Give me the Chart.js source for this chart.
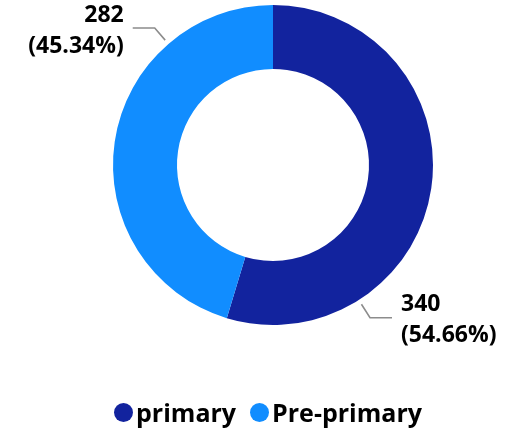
<!DOCTYPE html>
<html>
<head>
<meta charset="utf-8">
<script src="https://cdn.jsdelivr.net/npm/chart.js@4.4.0/dist/chart.umd.min.js"></script>
<style>
  body { margin: 0; background: #fff; font-family: "Open Sans", sans-serif; }
  #wrap { position: relative; width: 506px; height: 432px; }
  #legend {
    position: absolute; left: 30px; right: 0; top: 398px;
    display: flex; justify-content: center; gap: 14px;
    font-weight: 700; font-size: 25px; line-height: 29px; color: #000;
  }
  .item { display: flex; align-items: center; }
  .dot { width: 19px; height: 19px; border-radius: 50%; margin-right: 3px; }
</style>
</head>
<body>
<div id="wrap">
  <canvas id="donut"></canvas>
  <div id="legend"></div>
</div>
<script>
const categories = ['primary', 'Pre-primary'];
const counts = [340, 282];
const sliceColors = ['#12239E', '#118DFF'];

// ----- OUTSIDE LABELS WITH LEADER LINES -----
const calloutLabels = {
  id: 'calloutLabels',
  afterDatasetsDraw(chart) {
    const ctx = chart.ctx;
    const meta = chart.getDatasetMeta(0);
    const total = counts.reduce((a, b) => a + b, 0);
    meta.data.forEach((arc, i) => {
      const { x, y, startAngle, endAngle, outerRadius } =
        arc.getProps(['x', 'y', 'startAngle', 'endAngle', 'outerRadius'], true);
      const a = startAngle + (endAngle - startAngle) * 0.75;
      const cos = Math.cos(a), sin = Math.sin(a);
      const x0 = x + cos * (outerRadius + 5), y0 = y + sin * (outerRadius + 5);
      const x1 = x + cos * (outerRadius + 21), y1 = y + sin * (outerRadius + 21);
      const right = cos >= 0;
      const x2 = x1 + (right ? 22 : -22);

      ctx.save();
      ctx.strokeStyle = '#8c8c8c';
      ctx.lineWidth = 1.6;
      ctx.beginPath();
      ctx.moveTo(x0, y0);
      ctx.lineTo(x1, y1);
      ctx.lineTo(x2, y1);
      ctx.stroke();

      ctx.fillStyle = '#000';
      ctx.font = 'bold 23px "Open Sans"';
      ctx.textBaseline = 'middle';
      ctx.textAlign = right ? 'left' : 'right';
      const tx = x2 + (right ? 9 : -9);
      const pct = (counts[i] / total * 100).toFixed(2);
      ctx.fillText(String(counts[i]), tx, y1 - 13);
      ctx.fillText('(' + pct + '%)', tx, y1 + 18);
      ctx.restore();
    });
  }
};

// ----- CHART INIT -----
const ctx = document.getElementById('donut').getContext('2d');
new Chart(ctx, {
  type: 'doughnut',
  data: {
    labels: categories,
    datasets: [{
      data: counts,
      backgroundColor: sliceColors,
      borderWidth: 0
    }]
  },
  options: {
    responsive: true,
    maintainAspectRatio: false,
    animation: false,
    cutout: '60%',
    layout: { padding: { top: 5, left: 40, right: 0, bottom: 107 } },
    plugins: {
      legend: { display: false },
      tooltip: { enabled: false }
    }
  },
  plugins: [calloutLabels]
});

// ----- LEGEND -----
const legendDiv = document.getElementById('legend');
categories.forEach((name, i) => {
  const item = document.createElement('div');
  item.className = 'item';
  const dot = document.createElement('span');
  dot.className = 'dot';
  dot.style.background = sliceColors[i];
  const label = document.createElement('span');
  label.textContent = name;
  item.appendChild(dot);
  item.appendChild(label);
  legendDiv.appendChild(item);
});
</script>
</body>
</html>
